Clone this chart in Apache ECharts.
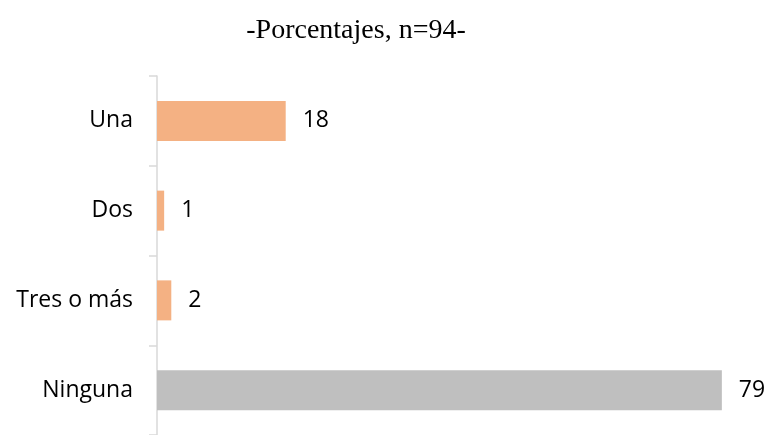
<!DOCTYPE html>
<html>
<head>
<meta charset="utf-8">
<script src="https://cdn.jsdelivr.net/npm/echarts@6/dist/echarts.min.js"></script>
<style>
  html, body { margin: 0; padding: 0; background: #fff; }
  #chart { width: 773px; height: 435px; }
</style>
</head>
<body>
<div id="chart"></div>
<script>
const categories = ['Una', 'Dos', 'Tres o más', 'Ninguna']
const values = [18, 1, 2, 79]
const barColors = ['#F4B183', '#F4B183', '#F4B183', '#BFBFBF']

const myChart = echarts.init(document.getElementById('chart'))
const option = {
  animation: false,
  title: {
    text: '-Porcentajes, n=94-',
    left: 351,
    top: 12,
    textAlign: 'center',
    textStyle: {
      fontFamily: 'Liberation Serif',
      fontWeight: 'normal',
      fontSize: 28,
      color: '#000'
    }
  },
  grid: { left: 157, right: 44, top: 76, bottom: -1, containLabel: false },
  xAxis: {
    type: 'value',
    min: 0,
    max: 80,
    show: false
  },
  yAxis: {
    type: 'category',
    inverse: true,
    data: categories,
    axisLine: { show: true, lineStyle: { color: '#D9D9D9', width: 1.5 } },
    axisTick: { show: true, length: 8, lineStyle: { color: '#D9D9D9', width: 1.5 } },
    axisLabel: {
      margin: 24,
      fontFamily: 'Open Sans',
      fontSize: 23,
      color: '#000'
    }
  },
  series: [
    {
      type: 'bar',
      barWidth: 40,
      data: values.map((v, i) => ({ value: v, itemStyle: { color: barColors[i] } })),
      label: {
        show: true,
        position: 'right',
        distance: 17,
        fontFamily: 'Open Sans',
        fontSize: 23,
        color: '#000'
      }
    }
  ]
}
myChart.setOption(option)
</script>
</body>
</html>
